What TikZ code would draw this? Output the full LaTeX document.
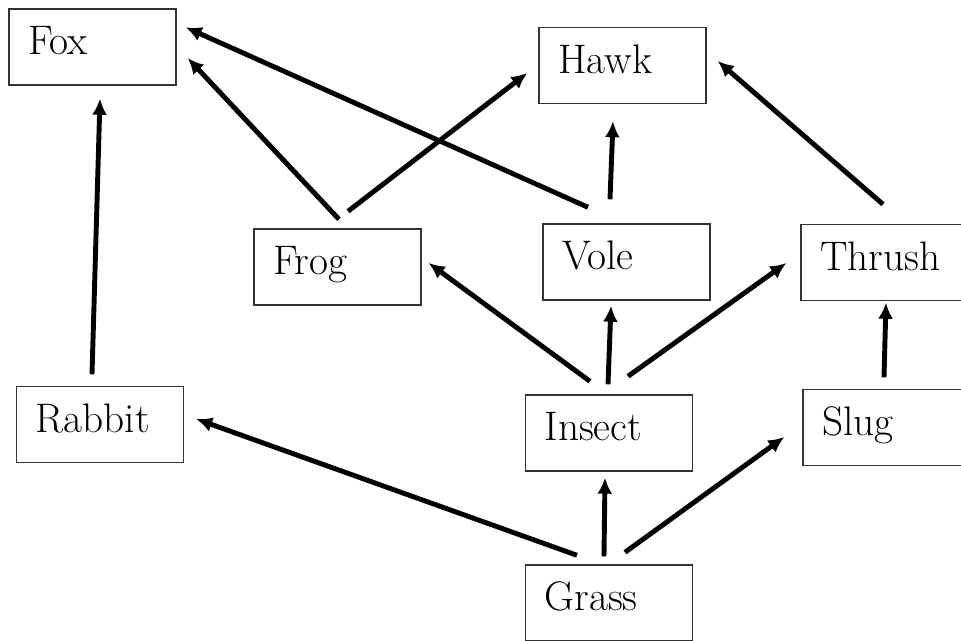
\documentclass[tikz,border=0pt]{standalone}
\usepackage{tikz}
\usetikzlibrary{arrows.meta, calc}

\tikzset{
  animal/.style={draw=black!80, line width=0.8pt, rectangle, text width=2.58cm,
    inner xsep=0.38cm, minimum height=1.52cm, align=left,
    text height=0.9em, text depth=0em, font=\fontsize{23.5}{27}\selectfont},
  eats/.style={-{Latex[length=0.32cm,width=0.3cm]}, line width=2.8pt}
}

\begin{document}
\begin{tikzpicture}[x=0.02cm, y=-0.02cm]
\useasboundingbox (0,0) rectangle (961,641);
\clip (0,0) rectangle (961,641);

% Top row
\node[animal] (fox) at (92.5,47) {Fox};
\node[animal] (hawk) at (622.5,65.5) {Hawk};

% Middle row
\node[animal] (frog) at (337.5,267) {Frog};
\node[animal] (vole) at (626.5,262) {Vole};
\node[animal] (thrush) at (884.5,262.5) {Thrush};

% Lower row
\node[animal] (rabbit) at (100,424.5) {Rabbit};
\node[animal] (insect) at (609,433) {Insect};
\node[animal] (slug) at (886.5,427.5) {Slug};

% Bottom
\node[animal] (grass) at (609,603) {Grass};

% Food chains
\draw[eats] ($(rabbit.north)+(-8,-11.5)$) -- ($(fox.south)+(7.5,13)$);
\draw[eats] ($(frog.north)+(1.5,-9)$) -- ($(fox.east)+(11,11)$);
\draw[eats] ($(vole.north)+(-38.5,-16)$) -- ($(fox.north east)+(9,19)$);
\draw[eats] ($(frog.north)+(10.5,-17)$) -- ($(hawk.west)+(-11,7.5)$);
\draw[eats] ($(vole.north)+(-16.5,-24)$) -- ($(hawk.south)+(-9.5,17)$);
\draw[eats] ($(thrush.north)+(-1.5,-19.5)$) -- ($(hawk.east)+(11,-4.5)$);
\draw[eats] ($(insect.north)+(-19,-13)$) -- ($(frog.east)+(7,-4)$);
\draw[eats] ($(insect.north)+(-1,-10)$) -- ($(vole.south)+(-15.5,5)$);
\draw[eats] ($(insect.north)+(19,-18)$) -- ($(thrush.west)+(-14,0.5)$);
\draw[eats] ($(slug.north)+(-2.5,-11.5)$) -- ($(thrush.south)+(1.5,1.5)$);
\draw[eats] ($(grass.north)+(-32,-9)$) -- ($(rabbit.east)+(12,-5.5)$);
\draw[eats] ($(grass.north)+(-5,-8)$) -- ($(insect.south)+(-4,6)$);
\draw[eats] ($(grass.north)+(16,-12)$) -- ($(slug.west)+(-18,9.5)$);
\end{tikzpicture}
\end{document}
